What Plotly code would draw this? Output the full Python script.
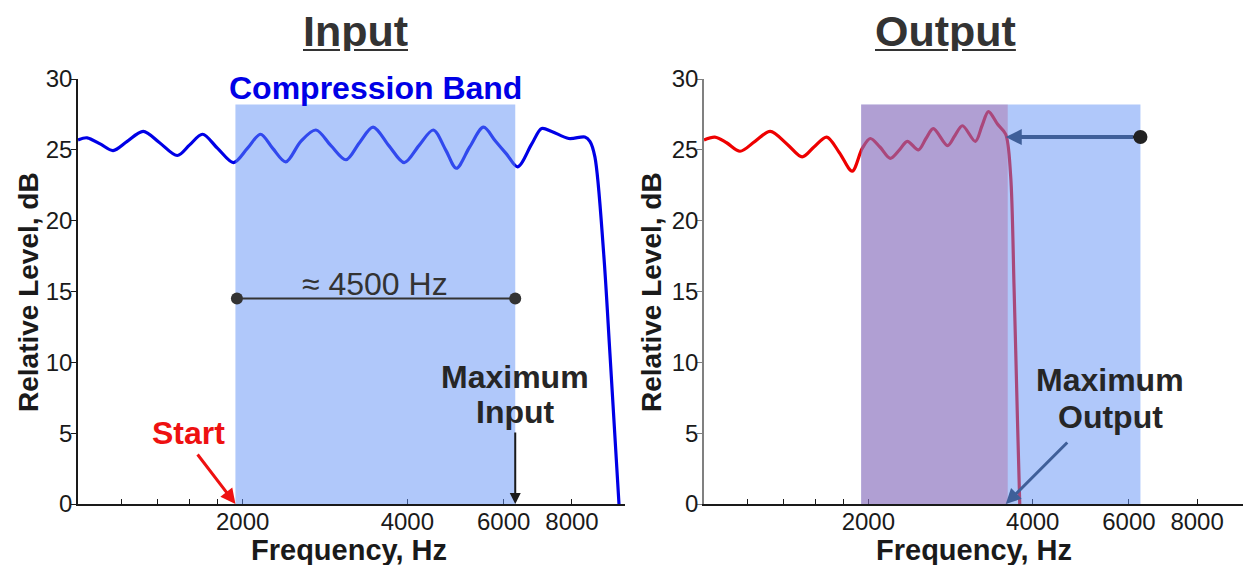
import numpy as np
import plotly.graph_objects as go

# ---------------- data ----------------
input_freq = [1000, 1039, 1100, 1159, 1230, 1316, 1410, 1519, 1600, 1689, 1800, 1925,
              2040, 2156, 2270, 2398, 2555, 2722, 2900, 3090, 3270, 3463, 3700, 3948,
              4200, 4462, 4700, 4917, 5200, 5512, 5800, 6075, 6364, 6750, 7042, 7345,
              7894, 8444, 8626, 8810, 9141, 9386, 9750]
input_level = [25.7, 25.85, 25.4, 24.95, 25.6, 26.3, 25.5, 24.6, 25.35, 26.1, 25.1, 24.1,
               25.1, 26.1, 25.1, 24.15, 25.6, 26.4, 25.3, 24.3, 25.5, 26.6, 25.3, 24.1,
               25.3, 26.4, 25.0, 23.7, 25.2, 26.6, 25.6, 24.7, 23.8, 25.4, 26.5, 26.3,
               25.8, 25.9, 25.6, 24.5, 17.7, 10.6, 0.0]

output_freq = [1000, 1047, 1100, 1164, 1240, 1322, 1420, 1513, 1590, 1678, 1770, 1868,
               1949, 2016, 2100, 2193, 2280, 2357, 2470, 2550, 2630, 2793, 2880, 2974,
               3140, 3230, 3318, 3450, 3569, 3644, 3697, 3751, 3787]
output_level = [25.7, 25.9, 25.5, 24.9, 25.6, 26.3, 25.4, 24.5, 25.2, 25.9, 24.8, 23.5,
                25.1, 25.8, 25.2, 24.4, 25.0, 25.6, 25.0, 25.8, 26.5, 25.3, 26.0, 26.7,
                25.6, 26.7, 27.7, 26.8, 26.1, 23.2, 15.3, 5.9, 0.0]

band_lo, band_hi, band_top = 1940, 6300, 28.2     # compression band (Hz, dB)
span_level = 14.5                                  # level of the "≈ 4500 Hz" bracket
out_knee = 3600                                    # upper edge of output band
max_out_freq, max_out_level = 3570, 25.9           # maximum output point

tick_vals = [1200, 1400, 1600, 1800, 2000, 4000, 6000, 8000]
tick_text = ["", "", "", "", "2000", "4000", "6000", "8000"]
y_ticks = [0, 5, 10, 15, 20, 25, 30]

# ---------------- figure ----------------
W, H = 1251, 565
OFF = 8  # page body margin: the figure starts 8 px in from the window corner
FONT = "Liberation Sans, Arial, sans-serif"
def px(x): return (x - OFF) / W
def py(y): return 1 - (y - OFF) / H

fig = go.Figure()
fig.add_trace(go.Scatter(x=input_freq, y=input_level, mode="lines",
                         line=dict(color="#0000e6", width=3.2, shape="spline", smoothing=0.9),
                         xaxis="x", yaxis="y", showlegend=False, hoverinfo="skip"))
fig.add_trace(go.Scatter(x=output_freq, y=output_level, mode="lines",
                         line=dict(color="#ee0000", width=3.2, shape="spline", smoothing=0.9),
                         xaxis="x2", yaxis="y2", showlegend=False, hoverinfo="skip"))

xcommon = dict(type="log", range=[3, 4], showgrid=False, zeroline=False, showline=True,
               ticks="inside", ticklen=5, tickwidth=1, automargin=False,
               tickvals=tick_vals, ticktext=tick_text, linecolor="#1a1a1a",
               linewidth=1.5, tickcolor="#1a1a1a", ticklabelstandoff=-5,
               tickfont=dict(size=24, color="#1a1a1a", family=FONT))
ycommon = dict(range=[0, 30], showgrid=False, zeroline=False, showline=True,
               ticks="outside", ticklen=5, tickwidth=1, automargin=False,
               tickvals=y_ticks, linewidth=1.5, ticklabelstandoff=-6,
               domain=[py(504), py(79)],
               tickfont=dict(size=24, color="#1a1a1a", family=FONT))
fig.update_layout(
    width=W, height=H, margin=dict(l=0, r=0, t=0, b=0, pad=0), autosize=False,
    paper_bgcolor="white", plot_bgcolor="white", font=dict(family=FONT),
    xaxis=dict(domain=[px(78), px(625)], anchor="y", **xcommon),
    yaxis=dict(anchor="x", linecolor="#1a1a1a", tickcolor="#1a1a1a", **ycommon),
    xaxis2=dict(domain=[px(704), px(1250)], anchor="y2", **xcommon),
    yaxis2=dict(anchor="x2", linecolor="#808080", tickcolor="#808080", **ycommon),
)

shapes = []
# compression bands (drawn above lines, semi-transparent)
for xr, yr in (("x", "y"), ("x2", "y2")):
    shapes.append(dict(type="rect", xref=xr, yref=yr, x0=band_lo, x1=band_hi, y0=0,
                       y1=band_top, fillcolor="rgb(97,145,245)", opacity=0.5,
                       line=dict(width=0), layer="above"))
shapes.append(dict(type="rect", xref="x2", yref="y2", x0=band_lo, x1=out_knee, y0=0,
                   y1=band_top, fillcolor="rgb(176,67,123)", opacity=0.3,
                   line=dict(width=0), layer="above"))
fig.update_layout(shapes=shapes)

ann = []
def text(t, x, y, size, color, angle=0, height=None):
    a = dict(text=t, x=px(x), y=py(y), xref="paper", yref="paper",
             showarrow=False, textangle=angle, xanchor="center", yanchor="middle",
             font=dict(size=size, color=color, family=FONT))
    if height:
        a["height"] = height
    ann.append(a)

text("<b><u>Input</u></b>", 355, 31, 43, "#333333", height=40)
text("<b><u>Output</u></b>", 945, 31, 43, "#333333", height=40)
text("<b>Compression Band</b>", 375, 88, 32, "#0000e6")
text("≈ 4500 Hz", 375, 284, 32, "#333333")
text("<b>Maximum</b>", 515, 377, 32, "#262626")
text("<b>Input</b>", 515, 412, 32, "#262626")
text("<b>Start</b>", 188, 433, 32, "#ee1111")
text("<b>Maximum</b>", 1110, 380, 32, "#262626")
text("<b>Output</b>", 1110, 417, 32, "#262626")
text("<b>Relative Level, dB</b>", 28, 292, 28, "#1a1a1a", -90)
text("<b>Relative Level, dB</b>", 651, 292, 28, "#1a1a1a", -90)
text("<b>Frequency, Hz</b>", 349, 550, 29, "#1a1a1a")
text("<b>Frequency, Hz</b>", 974, 550, 29, "#1a1a1a")

# ≈ 4500 Hz bracket with dots at both ends
ann.append(dict(text="", x=np.log10(band_hi), y=span_level, xref="x", yref="y",
                ax=np.log10(band_lo), ay=span_level, axref="x", ayref="y",
                showarrow=True, arrowhead=6, startarrowhead=6, arrowside="end+start",
                arrowsize=1.5, arrowwidth=2, arrowcolor="#333333"))
# arrows
ann.append(dict(text="", x=np.log10(band_hi), y=0, xref="x", yref="y", ax=0, ay=-73,
                showarrow=True, arrowhead=2, arrowsize=1.1, arrowwidth=2,
                arrowcolor="#1a1a1a"))
ann.append(dict(text="", x=np.log10(band_lo), y=0, xref="x", yref="y", ax=-39, ay=-51,
                showarrow=True, arrowhead=2, arrowsize=1.0, arrowwidth=3,
                arrowcolor="#ee1111"))
# dot at the start of the output arrow (drawn first, arrow shaft covers its stub)
ann.append(dict(text="", x=np.log10(band_hi), y=max_out_level, xref="x2", yref="y2",
                ax=-14, ay=0, showarrow=True, arrowhead=6, arrowsize=1.17,
                arrowwidth=3, arrowcolor="#222222"))
ann.append(dict(text="", x=np.log10(max_out_freq), y=max_out_level, xref="x2", yref="y2",
                ax=np.log10(band_hi), ay=max_out_level, axref="x2", ayref="y2",
                showarrow=True, arrowhead=2, arrowsize=0.8, arrowwidth=4,
                arrowcolor="#3f5f99", startstandoff=6))
ann.append(dict(text="", x=np.log10(max_out_freq), y=0, xref="x2", yref="y2", ax=63, ay=-63,
                showarrow=True, arrowhead=2, arrowsize=1, arrowwidth=3,
                arrowcolor="#3f5f99"))
fig.update_layout(annotations=ann)

fig.write_html("out.html")
